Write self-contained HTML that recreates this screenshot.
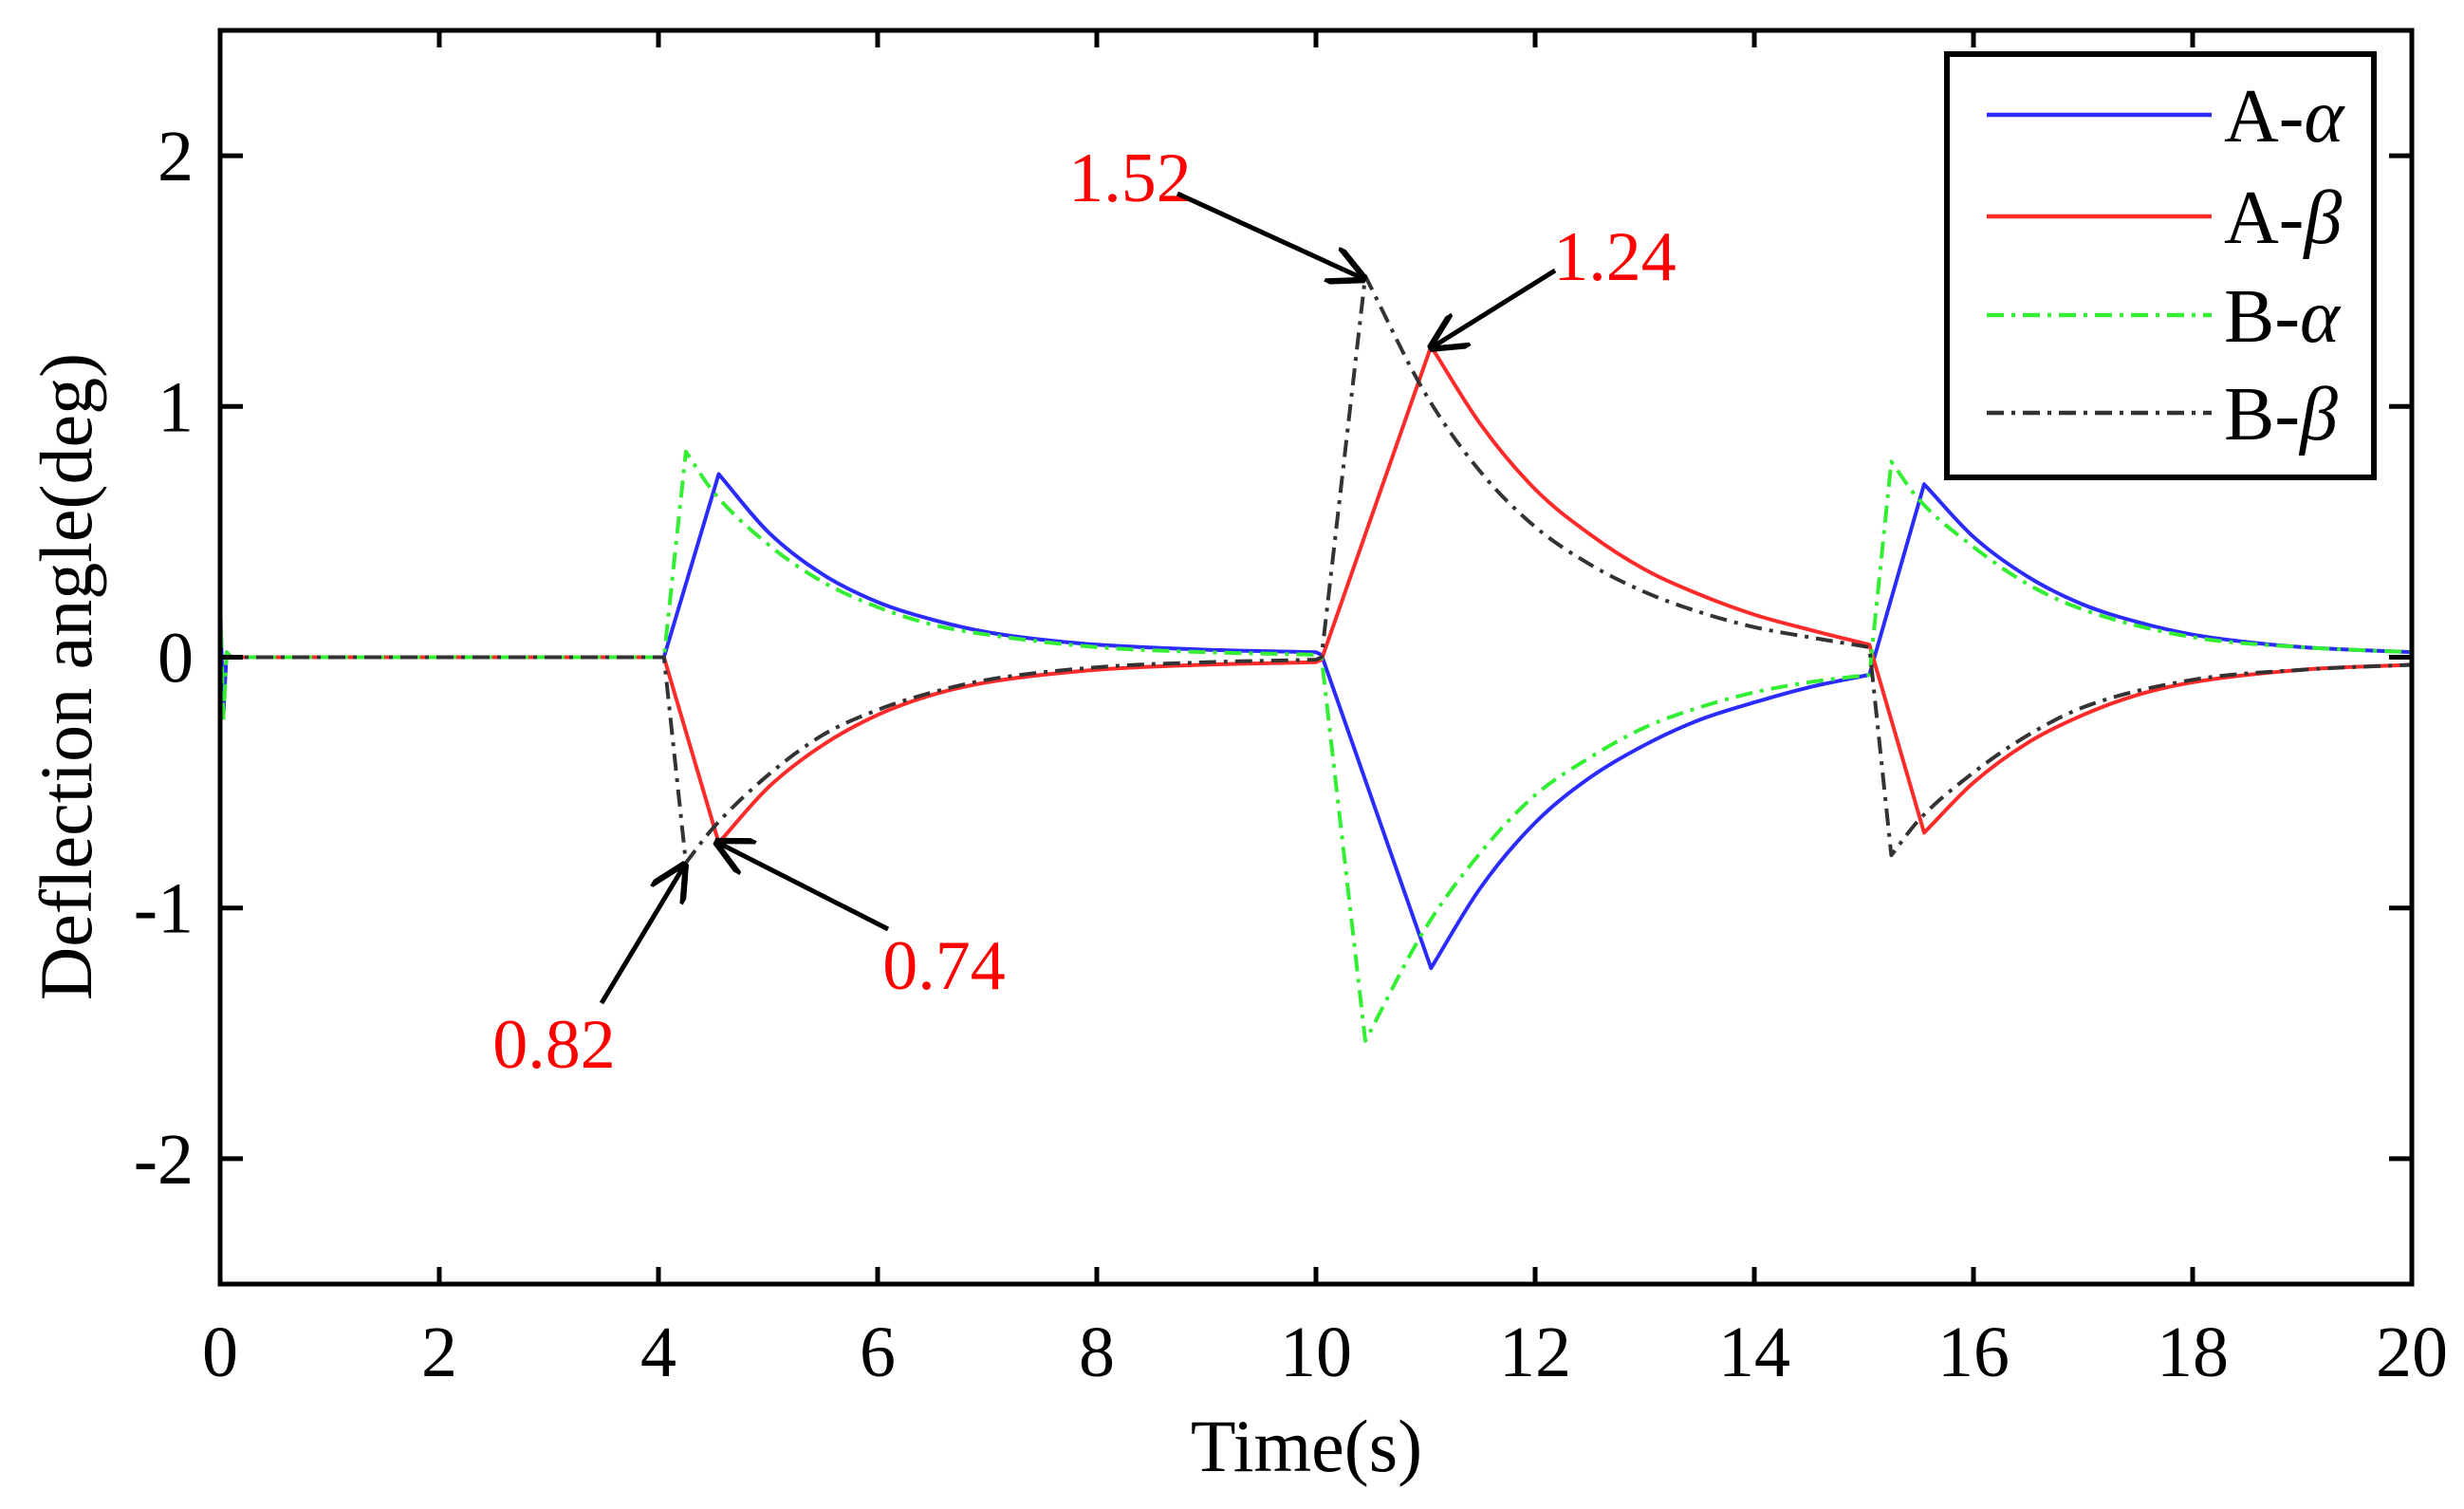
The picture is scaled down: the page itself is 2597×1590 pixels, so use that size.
<!DOCTYPE html>
<html><head><meta charset="utf-8">
<style>
html,body{margin:0;padding:0;background:#fff;}
svg{display:block;}
text{font-family:"Liberation Serif",serif;}
</style></head>
<body>
<svg id="chart" width="2597" height="1590" viewBox="0 0 2597 1590" xmlns="http://www.w3.org/2000/svg">
<rect x="0" y="0" width="2597" height="1590" fill="#fff"/>
<g id="plot"></g>
<g id="axes"></g>
<g id="annot"></g>
<g id="legend"></g>
<text x="1377" y="1550" font-size="78" text-anchor="middle">Time(s)</text>
<text x="0" y="0" font-size="78" text-anchor="middle" transform="translate(96,713) rotate(-90)">Deflection angle(deg)</text>
</svg>
<script>
const xTicks=[0,2,4,6,8,10,12,14,16,18,20];
const yTicks=[-2,-1,0,1,2];
const seriesNames=["A-α","A-β","B-α","B-β"];
const aAlphaT=[0,0.03,0.06,0.1,4.05,4.55,5,5.5,6,6.5,7,7.5,8,9,10,10.05,11.05,11.5,12,12.5,13,13.5,14,14.5,15.05,15.55,16,16.5,17,17.5,18,18.5,19,20];
const aAlphaV=[0.2,-0.22,0.02,0,0,0.73,0.5,0.33,0.22,0.15,0.1,0.07,0.05,0.03,0.02,0.01,-1.24,-0.92,-0.66,-0.48,-0.35,-0.25,-0.18,-0.12,-0.07,0.69,0.48,0.32,0.21,0.14,0.09,0.06,0.04,0.02];
const aBetaT=[0,4.05,4.55,5,5.5,6,6.5,7,8,9,10,10.05,11.05,11.5,12,12.5,13,13.5,14,14.5,15.05,15.55,16,16.5,17,17.5,18,19,20];
const aBetaV=[0,0,-0.74,-0.52,-0.35,-0.23,-0.15,-0.1,-0.05,-0.03,-0.02,-0.01,1.24,0.93,0.67,0.49,0.35,0.25,0.17,0.11,0.05,-0.7,-0.5,-0.34,-0.23,-0.15,-0.1,-0.05,-0.03];
const bAlphaT=[0,0.03,0.06,0.1,4.05,4.25,4.5,5,5.5,6,6.5,7,8,9,10,10.05,10.45,11,11.5,12,12.5,13,13.5,14,14.5,15.05,15.25,15.5,16,16.5,17,18,19,20];
const bAlphaV=[0.25,-0.25,0.02,0,0,0.82,0.66,0.45,0.3,0.2,0.13,0.09,0.04,0.02,0.01,0,-1.53,-1.08,-0.78,-0.55,-0.4,-0.28,-0.2,-0.14,-0.1,-0.07,0.78,0.63,0.44,0.29,0.19,0.08,0.04,0.02];
const bBetaT=[0,4.05,4.25,4.5,5,5.5,6,6.5,7,8,9,10,10.05,10.45,11,11.5,12,12.5,13,13.5,14,14.5,15.05,15.25,15.5,16,16.5,17,18,19,20];
const bBetaV=[0,0,-0.82,-0.68,-0.47,-0.31,-0.21,-0.14,-0.09,-0.04,-0.02,-0.01,0,1.52,1.05,0.74,0.52,0.37,0.26,0.18,0.12,0.08,0.04,-0.79,-0.65,-0.46,-0.31,-0.2,-0.09,-0.05,-0.03];
const annotLabels=["1.52","1.24","0.82","0.74"];

const NS="http://www.w3.org/2000/svg";
const L=232,R=2542,T=32,B=1353;
const X0=0,X1=20,Y0=-2.5,Y1=2.5;
function sx(v){return L+(v-X0)/(X1-X0)*(R-L);}
function sy(v){return B-(v-Y0)/(Y1-Y0)*(B-T);}
function mk(tag,attrs,parent){const e=document.createElementNS(NS,tag);for(const k in attrs)e.setAttribute(k,attrs[k]);parent.appendChild(e);return e;}
function smoothPath(ts,vs){
  const X=ts.map(sx),Y=vs.map(sy),n=X.length;
  const s=[];for(let k=0;k<n-1;k++)s.push((Y[k+1]-Y[k])/(X[k+1]-X[k]));
  function corner(i){
    if(i===0||i===n-1)return true;
    const a=s[i-1],b=s[i];
    if(Math.sign(a)!==Math.sign(b)||a===0||b===0)return true;
    const r=Math.abs(a)/Math.abs(b);return r>4||r<0.25;
  }
  let d="M"+X[0].toFixed(1)+","+Y[0].toFixed(1);
  for(let i=0;i<n-1;i++){
    const h=X[i+1]-X[i];
    const m0=corner(i)?s[i]:(s[i-1]+s[i])/2;
    const m1=corner(i+1)?s[i]:(s[i]+s[i+1])/2;
    d+="C"+(X[i]+h/3).toFixed(1)+","+(Y[i]+m0*h/3).toFixed(1)+" "+(X[i+1]-h/3).toFixed(1)+","+(Y[i+1]-m1*h/3).toFixed(1)+" "+X[i+1].toFixed(1)+","+Y[i+1].toFixed(1);
  }
  return d;
}

const plot=document.getElementById('plot');
const styles=[
 {c:"#2b2bff",d:null,n:"series-a-alpha"},
 {c:"#ff2a2a",d:null,n:"series-a-beta"},
 {c:"#33ee33",d:"18 8 4 8",n:"series-b-alpha"},
 {c:"#333333",d:"18 8 4 8",n:"series-b-beta"}];
const data=[[aAlphaT,aAlphaV],[aBetaT,aBetaV],[bAlphaT,bAlphaV],[bBetaT,bBetaV]];
data.forEach((s,i)=>{
  const p=mk('path',{d:smoothPath(s[0],s[1]),fill:"none",stroke:styles[i].c,"stroke-width":4,"stroke-linejoin":"round"},plot);
  if(styles[i].d)p.setAttribute('stroke-dasharray',styles[i].d);
  
  
});

const axes=document.getElementById('axes');
const frame=mk('rect',{x:L,y:T,width:R-L,height:B-T,fill:"none",stroke:"#000","stroke-width":5},axes);


xTicks.forEach(v=>{
  const x=sx(v);
  const t1=mk('line',{x1:x,x2:x,y1:B,y2:B-18,stroke:"#000","stroke-width":5},axes);
  
  
  const t2=mk('line',{x1:x,x2:x,y1:T,y2:T+18,stroke:"#000","stroke-width":5},axes);
  
  
  const lb=mk('text',{x:x,y:1450,"font-size":76,"text-anchor":"middle"},axes);
  lb.textContent=v;
  
  
});
yTicks.forEach(v=>{
  const y=sy(v);
  const t1=mk('line',{x1:L,x2:L+24,y1:y,y2:y,stroke:"#000","stroke-width":5},axes);
  
  
  const t2=mk('line',{x1:R,x2:R-24,y1:y,y2:y,stroke:"#000","stroke-width":5},axes);
  
  
  const lb=mk('text',{x:204,y:y+26,"font-size":76,"text-anchor":"end"},axes);
  lb.textContent=v<0?"-"+Math.abs(v):String(v);
  
  
});

const annot=document.getElementById('annot');
mk('defs',{},annot).innerHTML='<marker id="ah" viewBox="0 0 10 10" refX="10" refY="5" markerWidth="8" markerHeight="8" orient="auto"><path d="M0,0 L10,5 L0,10" fill="none" stroke="#000" stroke-width="1.6"/></marker>';
const ann=[
 {lx:1191,ly:212,a:[1241,204,1440,295]},
 {lx:1702,ly:295,a:[1639,285,1506,368]},
 {lx:584,ly:1125,a:[634,1057,723,909]},
 {lx:995,ly:1042,a:[936,979,753,886]}];
ann.forEach((o,i)=>{
  const t=mk('text',{x:o.lx,y:o.ly,"font-size":74,fill:"#ff0000","text-anchor":"middle"},annot);
  t.textContent=annotLabels[i];
  
  
  const ln=mk('line',{x1:o.a[0],y1:o.a[1],x2:o.a[2],y2:o.a[3],stroke:"#000","stroke-width":5,"marker-end":"url(#ah)"},annot);
  
  
});

const lg=document.getElementById('legend');
const box=mk('rect',{x:2052,y:57,width:450,height:446,fill:"#fff",stroke:"#000","stroke-width":6},lg);


const rows=[121,228,332,435];
seriesNames.forEach((n,i)=>{
  const ln=mk('line',{x1:2094,x2:2331,y1:rows[i],y2:rows[i],stroke:styles[i].c,"stroke-width":4.5},lg);
  if(styles[i].d)ln.setAttribute('stroke-dasharray',styles[i].d);
  
  
  const parts=n.split('-');
  const t=mk('text',{x:2344,y:rows[i]+28,"font-size":80},lg);
  t.innerHTML=parts[0]+'-<tspan font-style="italic">'+parts[1]+'</tspan>';
  
  
});
</script>
</body></html>
